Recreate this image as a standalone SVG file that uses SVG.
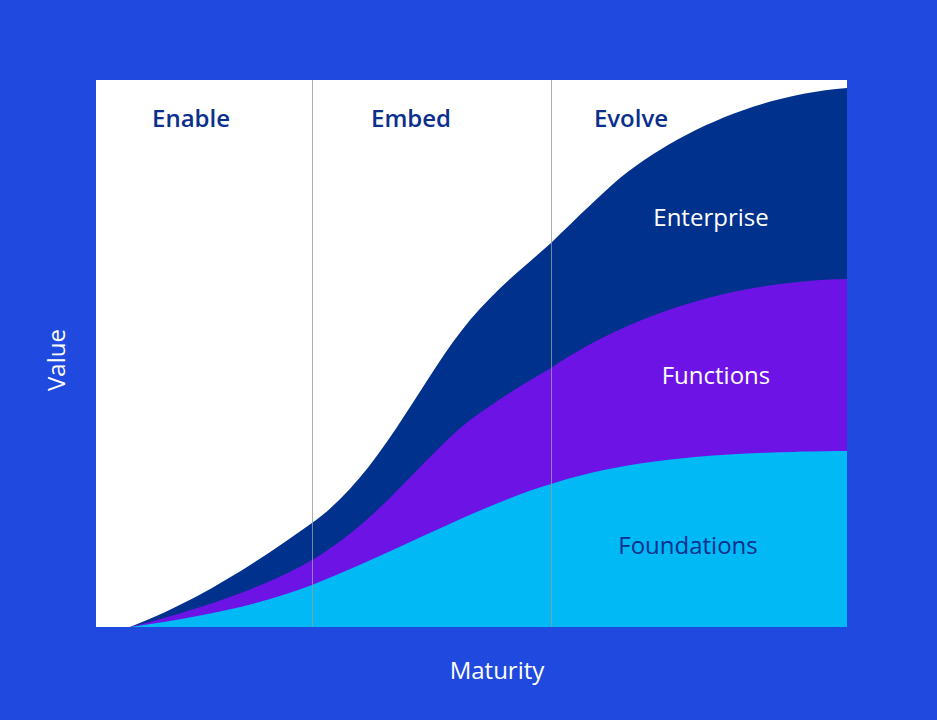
<svg xmlns="http://www.w3.org/2000/svg" width="937" height="720" viewBox="0 0 937 720">
<style>
text{font-family:"Open Sans","Noto Sans","Liberation Sans",sans-serif;font-size:24px}
.ph{font-weight:600;fill:#0A2F8C}
.ax{fill:#fff;font-weight:500}
</style>
<rect width="937" height="720" fill="#2049E0"/>
<rect x="96" y="80" width="751" height="547" fill="#fff"/>
<g id="enterprise"><path d="M130,627 C200,600 260,560 312,523 C380,475 420,380 470,320 C500,285 530,262 551,243 C580,215 600,195 620,178 C680,130 760,95 847,88 L847,627 Z" fill="#00318C"/>
<text x="711" y="226" text-anchor="middle" fill="#fff">Enterprise</text></g>
<g id="functions"><path d="M130,627 C200,610 270,585 312,560 C380,520 420,460 470,420 C500,398 530,380 551,368 C600,335 700,282 847,279 L847,627 Z" fill="#6D13E6"/>
<text x="716" y="384" text-anchor="middle" fill="#fff">Functions</text></g>
<g id="foundations"><path d="M130,627 C200,617 260,605 312,585 C400,550 480,505 551,484 C620,462 700,452 847,451 L847,627 Z" fill="#00B9F5"/>
<text x="688" y="554" text-anchor="middle" fill="#0A2F8C">Foundations</text></g>
<g id="dividers" stroke="#9a9a9a" stroke-width="0.8"><line x1="312.5" y1="80" x2="312.5" y2="627"/><line x1="551.5" y1="80" x2="551.5" y2="627"/></g>
<g id="phases"><text class="ph" x="191" y="127" text-anchor="middle">Enable</text><text class="ph" x="411" y="127" text-anchor="middle">Embed</text><text class="ph" x="631" y="127" text-anchor="middle">Evolve</text></g>
<text class="ax" x="497" y="679" text-anchor="middle">Maturity</text>
<text class="ax" transform="translate(65,360) rotate(-90)" text-anchor="middle">Value</text>
</svg>
